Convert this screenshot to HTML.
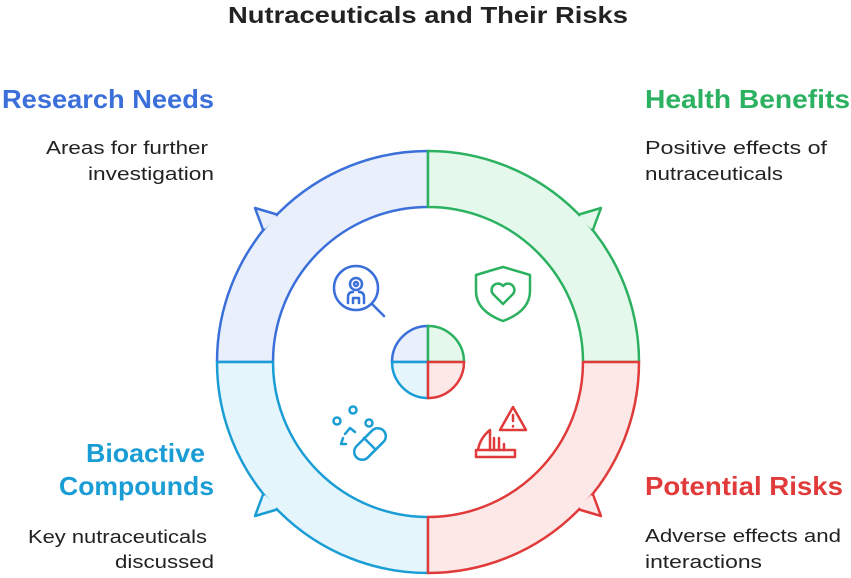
<!DOCTYPE html>
<html><head><meta charset="utf-8"><style>
html,body{margin:0;padding:0;background:#fff;}
svg{display:block;font-family:"Liberation Sans",sans-serif;}
</style></head><body>
<svg width="851" height="578" viewBox="0 0 851 578" xmlns="http://www.w3.org/2000/svg">
<text x="428" y="23" text-anchor="middle" font-size="23" font-weight="bold" fill="#222" textLength="400" lengthAdjust="spacingAndGlyphs">Nutraceuticals and Their Risks</text>

<g stroke-width="2.5" stroke-linejoin="round">
<path d="M217,362 A211,211 0 0 1 428,151 L428,207 A155,155 0 0 0 273,362 Z" fill="#e9f0fb" stroke="#3b6fd9"/>
<polygon points="277,214.5 255,208 263,229.5" fill="#e9f0fb" stroke="#3b6fd9"/>
<path d="M428,151 A211,211 0 0 1 639,362 L583,362 A155,155 0 0 0 428,207 Z" fill="#e4f9ec" stroke="#2bb160"/>
<polygon points="579,214.5 601,208 593,229.5" fill="#e4f9ec" stroke="#2bb160"/>
<path d="M217,362 A211,211 0 0 0 428,573 L428,517 A155,155 0 0 1 273,362 Z" fill="#e5f5fc" stroke="#1a9dd5"/>
<polygon points="277,509.5 255,516 263,494.5" fill="#e5f5fc" stroke="#1a9dd5"/>
<path d="M639,362 A211,211 0 0 1 428,573 L428,517 A155,155 0 0 0 583,362 Z" fill="#fde8e8" stroke="#e03a3a"/>
<polygon points="579,509.5 601,516 593,494.5" fill="#fde8e8" stroke="#e03a3a"/>
</g>
<g stroke-width="3">
<line x1="276" y1="216" x2="264" y2="228" stroke="#e9f0fb"/>
<line x1="580" y1="216" x2="592" y2="228" stroke="#e4f9ec"/>
<line x1="276" y1="508" x2="264" y2="496" stroke="#e5f5fc"/>
<line x1="580" y1="508" x2="592" y2="496" stroke="#fde8e8"/>
</g>

<g stroke-width="2.5">
<path d="M392,362 A36,36 0 0 1 428,326 L428,362 Z" fill="#e9f0fb" stroke="#3b6fd9"/>
<path d="M428,326 A36,36 0 0 1 464,362 L428,362 Z" fill="#e4f9ec" stroke="#2bb160"/>
<path d="M392,362 A36,36 0 0 0 428,398 L428,362 Z" fill="#e5f5fc" stroke="#1a9dd5"/>
<path d="M464,362 A36,36 0 0 1 428,398 L428,362 Z" fill="#fde8e8" stroke="#e03a3a"/>
</g>

<g fill="none" stroke-width="2.5" stroke-linecap="round" stroke-linejoin="round">
<g stroke="#3b6fd9">
<circle cx="356" cy="288" r="22"/>
<line x1="372" y1="304" x2="384" y2="316"/>
<circle cx="356" cy="284" r="6"/>
<circle cx="356" cy="284" r="2"/>
<path d="M348,303 v-6 q0,-5 5,-5 M364,303 v-6 q0,-5 -5,-5 M353,303 v-5 h6 v5"/>
</g>
<g stroke="#2bb160">
<path d="M476,275 q13,-4 27,-8 q14,4 27,8 v16 q0,20 -27,30 q-27,-10 -27,-30 Z"/>
<path d="M503,304 l-10,-10 a5.5,5.5 0 0 1 10,-8 a5.5,5.5 0 0 1 10,8 Z"/>
</g>
<g stroke="#1a9dd5">
<circle cx="337" cy="421" r="3.5"/><circle cx="353" cy="410" r="3.5"/><circle cx="369" cy="423" r="3.5"/>
<path d="M345,434 l5,-6 l5,4 M343,438 l-2,6 h5"/>
<rect x="351" y="436" width="38" height="16" rx="8" transform="rotate(-45 370 444)"/>
<line x1="364" y1="438" x2="375" y2="449"/>
</g>
<g stroke="#e03a3a">
<path d="M513,407 l-13,23 h26 Z"/>
<line x1="513" y1="415" x2="513" y2="421"/><line x1="513" y1="426" x2="513" y2="426.5"/>
<path d="M476,450 h39 v7 h-39 Z"/>
<path d="M478,450 q2,-12 12,-20 v20 M494,450 v-12 M499,450 v-12 M504,444 v6"/>
</g>
</g>

<g font-weight="bold" font-size="26">
<text x="214" y="108" text-anchor="end" fill="#3b6fd9" textLength="212" lengthAdjust="spacingAndGlyphs">Research Needs</text>
<text x="645" y="108" fill="#2bb160" textLength="205" lengthAdjust="spacingAndGlyphs">Health Benefits</text>
<text x="205" y="462" text-anchor="end" fill="#1a9dd5" textLength="119" lengthAdjust="spacingAndGlyphs">Bioactive</text>
<text x="214" y="495" text-anchor="end" fill="#1a9dd5" textLength="155" lengthAdjust="spacingAndGlyphs">Compounds</text>
<text x="645" y="495" fill="#e03a3a" textLength="198" lengthAdjust="spacingAndGlyphs">Potential Risks</text>
</g>
<g font-size="18" fill="#222">
<text x="208" y="154" text-anchor="end" textLength="162" lengthAdjust="spacingAndGlyphs">Areas for further</text>
<text x="214" y="180" text-anchor="end" textLength="126" lengthAdjust="spacingAndGlyphs">investigation</text>
<text x="645" y="154" textLength="182" lengthAdjust="spacingAndGlyphs">Positive effects of</text>
<text x="645" y="180" textLength="138" lengthAdjust="spacingAndGlyphs">nutraceuticals</text>
<text x="207" y="543" text-anchor="end" textLength="179" lengthAdjust="spacingAndGlyphs">Key nutraceuticals</text>
<text x="214" y="568" text-anchor="end" textLength="99" lengthAdjust="spacingAndGlyphs">discussed</text>
<text x="645" y="542" textLength="196" lengthAdjust="spacingAndGlyphs">Adverse effects and</text>
<text x="645" y="568" textLength="117" lengthAdjust="spacingAndGlyphs">interactions</text>
</g>
</svg>
</body></html>
